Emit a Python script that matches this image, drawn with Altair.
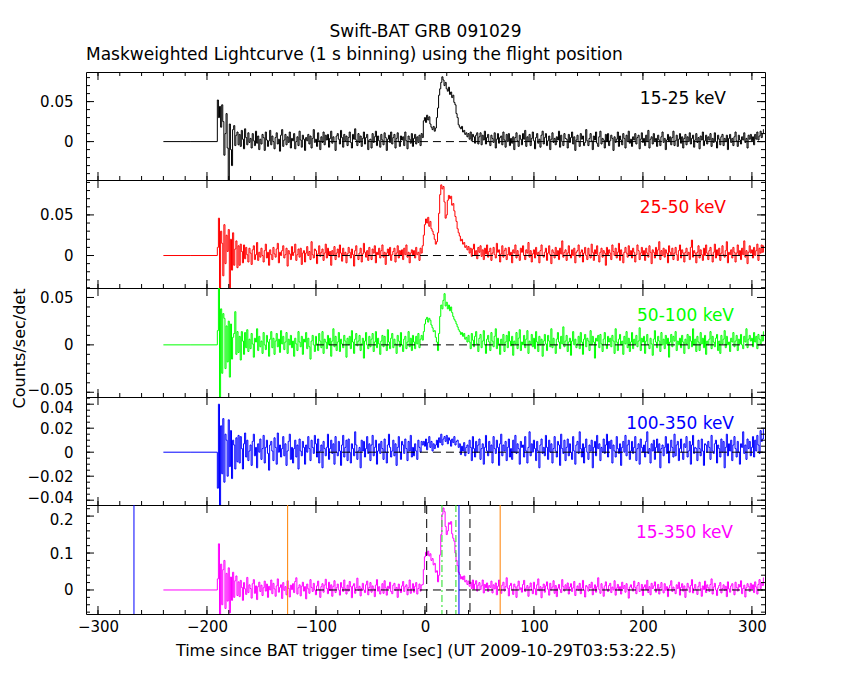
import altair as alt
import pandas as pd

# ---------------- data ----------------
X_DOMAIN = [-311, 312]
X_MAJOR = [-300, -200, -100, 0, 100, 200, 300]
X_MINOR = [-300, -280, -260, -240, -220, -200, -180, -160, -140, -120, -100,
           -80, -60, -40, -20, 0, 20, 40, 60, 80, 100, 120, 140, 160, 180,
           200, 220, 240, 260, 280, 300]

FLAT_T = [-240, -191]      # flat (zero) part before the data start
FLAT_V = [0, 0]
T0 = -190                  # first 1 s bin of the measured curve
ZERO_T = [-100, 310]       # dashed zero reference line

# rates in units of 0.001 counts/sec/det, one value per 1 s bin from T0
P1 = [
    52, 30, 44, 18, 46, 25, -17, 10, 35, -8,
    -52, 22, -10, -30, 15, 20, -5, 8, 12, -4,
    9, -6, 14, 3, -9, 16, 5, -4, 11, -1,
    4, -8, 10, 1, -5, 13, -2, 7, -10, 3,
    -3, 9, 5, -11, 12, 2, -6, 1, 14, -4,
    7, 0, -9, 5, 11, -3, 3, -12, 8, 15,
    -6, 2, 9, -4, 6, -1, 12, -8, 4, 1,
    10, -9, 0, 6, -5, 13, 2, -7, 8, 3,
    -11, 5, 1, 9, -3, 7, -8, 4, 15, -1,
    3, -6, 11, 1, -10, 6, -1, 12, -4, 8,
    2, 9, -7, 4, 13, -2, 6, 0, -11, 7,
    10, 3, -3, 14, 5, -7, 9, 1, 7, -5,
    5, 12, -1, -8, 9, 3, 16, 2, -5, 10,
    -1, 7, -6, 4, 12, -3, 5, 9, -10, 2,
    3, -8, 10, -1, 6, 13, -5, 7, 1, -7,
    9, 2, -4, 11, 5, -11, 3, 8, -1, 12,
    -3, 5, 9, -8, 4, 11, 0, -6, 7, 2,
    6, -5, 12, 1, -9, 7, 3, -2, 10, -6,
    4, 9, -3, 6, -1, 8, -5, 10, 5, 26,
    30, 24, 33, 27, 31, 22, 18, 15, 19, 13,
    17, 30, 42, 58, 66, 74, 81, 77, 70, 74,
    66, 63, 68, 59, 62, 55, 58, 49, 46, 35,
    30, 21, 18, 16, 19, 12, 14, 9, 11, 6,
    10, 3, 12, 1, 9, 6, -2, 8, 11, -3,
    6, 11, -4, 8, 2, 13, -3, 5, 9, 0,
    -5, 8, 4, -1, 11, -8, 3, 10, -2, 5,
    7, -4, 12, 2, -7, 9, 0, 10, -5, 4,
    -2, 6, -10, 5, 11, 1, -6, 8, 3, -4,
    10, 3, 14, -6, 6, 0, 9, -5, 4, 12,
    1, -9, 5, 10, -2, 3, -7, 8, 13, -3,
    5, 10, -5, 1, 7, -10, 3, 11, -1, 4,
    -4, 6, 2, 13, -7, 8, 0, -5, 10, 4,
    3, -8, 9, -1, 5, 12, -3, 6, -11, 2,
    8, 0, -6, 10, 3, 7, -5, -1, 15, 1,
    -5, 4, 10, 1, -10, 7, 2, 12, -2, -6,
    6, 13, -3, 4, 2, -8, 9, 0, 10, -5,
    1, 8, 4, -11, 6, -1, 3, 12, -6, 7,
    2, -4, 10, 4, -8, 8, 0, 13, -2, 3,
    -6, 6, 2, 10, -3, 5, 8, -9, 3, 11,
    -1, 4, -5, 8, 0, 14, -8, 3, 6, -3,
    10, 1, 4, -6, 8, 2, -5, 6, 12, -1,
    4, -10, 2, 9, 0, 6, -4, 5, 13, -5,
    1, 8, -6, 3, 10, -2, 6, -8, 4, 9,
    -4, 6, 0, 11, -3, 4, 8, -7, 2, 10,
    -1, 5, -9, 7, 2, 12, -5, 1, 8, -3,
    6, 2, 10, -6, 4, -1, 11, 0, -8, 8,
    3, -4, 6, 9, -5, 4, 0, 8, -10, 4,
    9, -1, 4, -5, 6, 12, 1, -6, 8, 2,
    -3, 6, 2, 11, -1, 4, -8, 8, 3, 9,
    1, 6, -4, 9, 3, 12, 2, 7, 13, 5,
    10, 15,
]
P2 = [
    10, 46, -42, 30, 15, -25, 38, -10, 25, 5,
    32, -45, 20, -18, 28, -12, 8, 18, -15, 12,
    -12, 14, 5, -9, 13, -4, 10, 1, -8, 9,
    3, -11, 7, 12, -5, 1, 16, -6, 4, -2,
    9, 0, -8, 6, 14, -3, 4, -12, 7, 1,
    -5, 10, 2, -2, 8, 15, -9, 4, 0, 6,
    12, -3, 1, 9, -13, 6, 2, -5, 11, 0,
    4, 14, -6, 1, 8, -2, 9, -11, 3, 6,
    -8, 3, 11, 0, 5, -5, 17, 1, -3, 8,
    6, -10, 2, 12, -1, 4, 8, -6, 3, 14,
    -3, 9, 0, 5, -12, 6, 1, 11, -5, 3,
    8, -2, 13, 3, -7, 9, 0, 4, -9, 2,
    10, 4, -3, 8, 1, -13, 6, 12, 0, -5,
    3, 9, -8, 2, 15, 4, -2, 6, -6, 10,
    0, -5, 8, 3, 12, -9, 4, 1, 9, -3,
    6, 13, -2, 4, -11, 3, 8, 0, 10, -6,
    1, 5, 9, -8, 3, 12, -3, 6, 0, 7,
    -5, 9, 1, 13, -2, 4, -9, 3, 7, 0,
    6, -3, 10, 1, 4, -6, 9, 3, 12, 25,
    38, 45, 40, 47, 36, 42, 33, 30, 26, 20,
    14, 17, 28, 52, 75, 87, 82, 85, 66, 46,
    50, 68, 74, 70, 73, 62, 64, 55, 48, 42,
    33, 28, 24, 18, 20, 14, 16, 10, 12, 7,
    11, 3, 9, -1, 8, 14, 0, 6, -4, 10,
    4, 12, -1, 7, -5, 9, 2, 13, -2, 5,
    9, -6, 3, 10, 1, -3, 15, 4, 7, -8,
    2, 12, -2, 6, 9, -5, 1, 10, 0, 4,
    -9, 7, 3, 13, -3, 6, 1, -6, 9, 4,
    12, 0, -5, 7, 3, 16, -2, 6, -8, 2,
    7, -3, 10, 1, 4, -9, 6, 13, 0, -2,
    4, 9, -6, 3, 12, 1, -10, 7, 4, -3,
    10, 0, 6, -5, 9, 2, 18, -2, 4, 7,
    -6, 3, 12, 1, -3, 7, 0, 9, -9, 4,
    6, 13, -2, 4, 7, -8, 3, 10, 0, -5,
    9, 1, -3, 14, 4, -6, 7, 2, 12, 0,
    -8, 4, 9, -2, 6, 3, -12, 10, 1, 7,
    3, -5, 13, 5, 0, 9, -3, 4, 15, -6,
    7, 1, -9, 4, 10, 3, -2, 12, 0, 6,
    -3, 9, 4, -8, 1, 13, 6, -5, 3, 10,
    0, 6, -6, 9, 3, -2, 12, 4, -10, 7,
    4, -3, 10, 1, 7, 17, -5, 6, 0, 9,
    -2, 7, 3, -9, 12, 4, 0, 9, -5, 3,
    10, 1, -6, 6, 13, -3, 7, 3, -8, 4,
    9, 0, 4, -5, 10, 19, -2, 6, 3, -9,
    4, 12, -3, 7, 1, -6, 9, 0, 13, 3,
    -5, 6, 10, 1, -8, 4, 14, -3, 7, 0,
    9, -6, 3, 12, 1, -2, 6, 17, -9, 4,
    1, 7, -3, 10, 4, -8, 3, 13, 0, 6,
    -5, 9, 1, 18, -2, 6, -10, 4, 12, 3,
    7, -3, 10, 0, 6, 14, -6, 9, 3, 13,
    4, 12,
]
P3 = [
    15, 62, -58, 38, -30, 33, 28, -25, 20, -18,
    25, -34, 22, -15, 8, 12, 35, -10, 14, -8,
    9, -16, 14, 4, -10, 13, -3, 16, -7, 6,
    -4, 12, 1, -13, 7, 3, 17, -6, 9, -2,
    4, -9, 13, 0, -5, 10, 3, -12, 6, 14,
    -3, 7, -10, 4, 12, -2, 6, -8, 15, 1,
    9, -5, 3, 13, -9, 6, 0, 10, -3, 4,
    -12, 7, 1, -6, 14, 3, -2, 9, -10, 6,
    3, 13, -4, 7, -2, -15, 4, 10, 0, -7,
    9, 1, -6, 12, 4, -3, 14, -9, 6, 3,
    -4, 10, 0, 7, -12, 4, 17, -2, 9, -6,
    3, 13, -7, 6, 1, -3, 10, 4, -13, 7,
    0, 9, -4, 15, 3, -9, 6, 12, -1, 4,
    10, -6, 1, 7, -14, 4, 13, 0, -4, 9,
    -2, 6, 12, -7, 3, 14, -3, 7, 1, -10,
    4, 10, -2, 9, 0, -6, 16, 3, -4, 7,
    12, -3, 6, 1, -9, 10, 4, -2, 13, 0,
    -7, 6, 9, -4, 3, 14, -2, 7, -6, 10,
    3, -4, 9, 1, 12, -3, 6, 10, 5, 14,
    22, 27, 29, 24, 28, 26, 21, 18, 14, 15,
    8, 3, -6, 12, 30, 42, 38, 47, 54, 41,
    45, 38, 42, 36, 40, 34, 30, 27, 25, 22,
    19, 16, 14, 11, 13, 9, 12, 6, 8, 3,
    10, 3, -4, 12, 5, -2, 9, 14, 1, -7,
    7, 11, -3, 4, 15, 0, -9, 6, 10, 3,
    -6, 13, 4, -2, 9, 17, -4, 7, 1, -10,
    6, 0, 11, -7, 3, 10, -3, 14, 4, -1,
    9, -11, 4, 1, 13, -4, 7, 16, -6, 3,
    0, 10, -3, 6, 15, -9, 4, 1, 11, -2,
    7, -4, 14, 3, -7, 9, 0, 6, -12, 4,
    11, 1, -6, 10, 4, -2, 17, -3, 7, 0,
    -9, 6, 13, 3, -4, 9, 1, 19, -2, 4,
    10, -7, 3, 7, -11, 4, 14, 0, 6, -3,
    1, 9, -4, 13, 3, -10, 6, 11, -2, 7,
    4, -6, 15, 0, 9, 3, -14, 7, 4, 10,
    -3, 11, 1, -7, 6, 13, 0, -4, 9, 3,
    7, -2, 10, 4, -9, 17, 3, -6, 6, 11,
    0, 4, -10, 9, 1, 14, -3, 7, -7, 3,
    13, -4, 6, 1, 10, -2, 4, 18, -6, 7,
    3, 9, -9, 4, 11, 0, -4, 7, 1, -11,
    6, 15, 3, -3, 9, 4, -7, 13, 0, 6,
    -4, 10, 1, 7, -13, 3, 11, -2, 9, 4,
    14, -6, 4, 0, 7, -3, 10, 3, -9, 6,
    1, 11, -4, 9, 4, -2, 17, 0, 6, -7,
    9, 3, -6, 13, 1, 7, -3, 10, -10, 4,
    0, 6, 14, -4, 9, 3, -2, 7, 11, -6,
    4, -9, 10, 1, 6, 15, -3, 9, 0, 3,
    -7, 7, 3, 13, -2, 4, 10, -6, 6, 1,
    11, 0, -4, 9, 3, 17, -3, 6, 10, 4,
    7, -2, 13, 3, 9, -4, 11, 6, 1, 10,
    4, 14,
]
P4 = [
    -30, 40, -44, 22, -18, 28, -25, 15, 10, -20,
    27, -12, 18, -22, 10, 6, -14, 12, -8, 14,
    -9, 13, 3, -14, 7, 16, -4, 10, -7, 1,
    6, -11, 9, 15, -3, 4, -13, 7, 0, 11,
    -6, 3, 14, -9, 4, 10, -1, -15, 6, 9,
    1, -7, 12, 4, -10, 16, 0, 6, -4, 3,
    13, -3, 7, -11, 1, 9, 15, -6, 4, -9,
    3, 10, -4, 6, -14, 11, 1, -3, 9, 4,
    -10, 6, 0, 13, 3, -7, 10, 4, -1, 14,
    7, -4, 11, -9, 1, 6, -13, 9, 3, -3,
    4, 15, -6, 3, 10, -1, 7, -10, 13, 0,
    -3, 9, 1, -11, 6, 14, -4, 4, 10, -7,
    11, 0, -9, 7, 3, -3, 17, 6, -6, 1,
    4, -13, 10, 1, 9, -4, 3, 13, -1, 7,
    -7, 6, 14, -3, 4, 10, -10, 1, 7, -1,
    9, 3, -6, 11, 0, -9, 6, 15, 4, -4,
    1, 10, -3, 7, -11, 4, 13, 0, -6, 9,
    6, -1, 11, 3, -7, 9, 1, 14, -4, 4,
    -3, 7, 1, -6, 10, 4, 0, 9, 6, 9,
    5, 11, 2, 8, 13, 4, 9, 1, 7, 3,
    6, 10, 4, 12, 8, 15, 6, 11, 13, 9,
    14, 7, 12, 10, 5, 11, 8, 13, 6, 9,
    10, 4, 7, -2, 5, 1, 8, -3, 4, 6,
    -1, 10, 4, -7, 13, 3, -4, 9, 0, 6,
    11, -6, 3, 7, -10, 4, 14, 1, -3, 9,
    0, 6, -9, 13, 3, -1, 10, 4, -11, 7,
    15, -3, 6, 1, 9, -7, 4, 11, -4, 3,
    -6, 10, 0, 14, -1, 7, 3, -10, 9, 4,
    6, -4, 13, 1, -9, 4, 17, -3, 7, 0,
    10, 3, -7, 9, 1, -13, 6, 11, -1, 4,
    -3, 14, 4, -6, 10, 0, 7, -9, 3, 13,
    1, -4, 9, 6, -11, 15, 3, -1, 10, -7,
    4, 11, -3, 7, 0, -6, 13, 1, -10, 6,
    9, -1, 17, 3, -4, 7, -9, 4, 11, 0,
    -6, 6, 1, 10, -13, 4, 9, -3, 14, 3,
    7, -7, 4, 0, 11, -1, 6, 15, -4, 9,
    3, 10, -9, 6, 1, -4, 13, 3, -1, 7,
    -11, 4, 9, 0, 14, -3, 6, 10, -6, 1,
    9, -1, 4, 13, -7, 3, 7, -10, 11, 4,
    0, 6, -4, 9, 17, -1, 3, -9, 7, 1,
    10, -6, 4, 11, 0, 7, -13, 3, 6, -3,
    4, 13, -1, 7, -9, 1, 10, 4, -4, 15,
    -3, 6, 9, -7, 3, 11, 0, -6, 7, 4,
    13, -4, 1, 9, -10, 6, 14, -1, 4, 3,
    -7, 10, 3, -3, 11, 1, -11, 7, 6, 0,
    9, 4, -6, 14, 1, -1, 7, 10, -9, 6,
    3, -4, 11, 0, 9, -13, 4, 15, -3, 7,
    1, 10, -7, 6, 13, 3, -4, 9, 0, -10,
    7, 4, 17, -1, 6, -6, 11, 3, 9, -3,
    4, 13, -4, 10, 1, 14, 6, -1, 18, 9,
    11, 19,
]
P5 = [
    30, 125, -65, 70, -40, 55, 80, -50, 45, -30,
    60, -62, 35, -28, 48, -20, 25, 38, -15, 22,
    -18, 26, 7, -28, 20, 3, -12, 34, -7, 14,
    4, -22, 17, 28, -9, 11, -26, 9, 21, -4,
    13, -15, 6, 24, -3, 16, -20, 10, 0, 27,
    -10, 18, 3, -17, 11, 30, -6, 7, 14, -23,
    20, -1, 9, -13, 25, 4, -19, 13, 1, 17,
    -7, 23, 33, -11, 6, 14, -16, 10, 21, -3,
    9, -24, 16, 3, -9, 28, 7, -4, 18, 0,
    -13, 11, 24, 1, -20, 9, 17, -6, 13, 29,
    4, -10, 21, -1, 14, -17, 10, 25, -7, 6,
    16, 0, -14, 20, 7, -4, 27, 3, -11, 13,
    -3, 23, 9, -21, 11, 17, -9, 6, 32, -1,
    10, -16, 4, 18, 0, -7, 14, 24, -13, 7,
    20, -6, 11, 3, -18, 13, 28, -3, 9, -11,
    1, 17, -9, 25, 6, -14, 10, 4, 21, -4,
    -10, 13, 18, -1, 7, -20, 16, 3, -7, 11,
    23, -4, 9, 14, -13, 6, 27, -9, 3, 17,
    -6, 10, 20, -11, 4, 16, -3, 13, 15, 55,
    90, 102, 95, 105, 92, 98, 80, 85, 68, 72,
    48, 52, 22, 40, 95, 150, 205, 222, 212, 172,
    150, 160, 182, 178, 185, 152, 140, 132, 100, 80,
    66, 48, 42, 30, 36, 28, 38, 22, 26, 15,
    24, 10, 21, 4, 27, 2, 16, 25, -3, 13,
    20, 1, 11, 27, -8, 15, 6, 19, -4, 12,
    7, 24, -8, 14, 3, 19, -13, 10, 27, 0,
    -9, 13, 21, -3, 9, 33, 5, -16, 12, 18,
    2, -12, 16, 8, -20, 11, 24, 0, 6, -6,
    15, 26, -4, 5, 12, -17, 8, 19, 1, -10,
    21, 3, -13, 14, 30, -2, 9, -21, 6, 16,
    -6, 11, 22, 2, -14, 18, 0, 8, 25, -9,
    12, -18, 5, 15, 1, -7, 28, 9, -3, 14,
    3, 19, -11, 8, 17, -4, 6, 23, -15, 2,
    11, -1, 18, -10, 5, 26, 0, -19, 12, 8,
    -3, 15, 6, 21, -13, 4, 14, -6, 9, 33,
    1, -9, 17, 5, -17, 11, 22, 2, -4, 12,
    18, -7, 8, 0, 25, -14, 5, 15, -1, 9,
    -11, 21, 4, 12, -6, 17, 1, -22, 8, 14,
    5, -3, 24, 7, -10, 12, 20, -4, 2, 15,
    -15, 8, 14, 1, 26, -7, 9, -13, 18, 4,
    11, 22, -6, 3, 15, -11, 7, 20, 0, -8,
    17, -1, 9, -18, 5, 13, 25, -4, 8, 1,
    -10, 14, 4, 21, -14, 7, 17, -3, 11, -20,
    3, 18, 8, -6, 12, 28, -8, 5, 15, 0,
    -12, 10, 21, 4, -17, 11, 1, 24, -7, 14,
    6, -4, 15, 30, -11, 8, 18, 0, -15, 5,
    12, 20, -8, 4, 14, -1, 10, -18, 22, 3,
    -6, 11, 17, 1, -13, 21, 7, -3, 15, 8,
    25, -10, 4, 13, -19, 6, 17, 10, -4, 18,
    3, 14, -7, 22, 8, -11, 15, 28, 4, 20,
    12, 33,
]

# y ranges and ticks of the five panels
P1_DOMAIN = [-0.048, 0.087]
P2_DOMAIN = [-0.040, 0.093]
P3_DOMAIN = [-0.055, 0.060]
P4_DOMAIN = [-0.044, 0.046]
P5_DOMAIN = [-0.065, 0.230]
P1_MAJOR = [0, 0.05]
P2_MAJOR = [0, 0.05]
P3_MAJOR = [-0.05, 0, 0.05]
P4_MAJOR = [-0.04, -0.02, 0, 0.02, 0.04]
P5_MAJOR = [0, 0.1, 0.2]
P1_MINOR = [-0.04, -0.03, -0.02, -0.01, 0, 0.01, 0.02, 0.03, 0.04, 0.05, 0.06, 0.07, 0.08]
P2_MINOR = [-0.04, -0.03, -0.02, -0.01, 0, 0.01, 0.02, 0.03, 0.04, 0.05, 0.06, 0.07, 0.08, 0.09]
P3_MINOR = [-0.05, -0.04, -0.03, -0.02, -0.01, 0, 0.01, 0.02, 0.03, 0.04, 0.05, 0.06]
P4_MINOR = [-0.04, -0.035, -0.03, -0.025, -0.02, -0.015, -0.01, -0.005, 0, 0.005,
            0.01, 0.015, 0.02, 0.025, 0.03, 0.035, 0.04, 0.045]
P5_MINOR = [-0.06, -0.04, -0.02, 0, 0.02, 0.04, 0.06, 0.08, 0.1, 0.12, 0.14,
            0.16, 0.18, 0.2, 0.22]

BANDS = ["15-25 keV", "25-50 keV", "50-100 keV", "100-350 keV", "15-350 keV"]
COLORS = ["#000000", "#ff0000", "#00ff00", "#0000ff", "#ff00ff"]

# marker lines of the bottom panel
BLUE_LINES = [-267, 31.2]
ORANGE_LINES = [-126, 69]
BLACK_DASHED_LINES = [1.6, 41.3]
GREEN_DASHDOT_LINES = [15.6, 28.4]

# ---------------- layout ----------------
FONT = "DejaVu Sans"
W = 679
HEIGHTS = [108, 108, 109, 108, 109]
LABEL_POS = [(640, 27), (640, 28), (648, 28), (648, 27), (647, 28)]
MAJ, MIN = 8, 4
# small nudges of the y labels that sit on a panel edge (keeps them apart)
LABEL_NUDGE = [
    None,
    None,
    {"condition": {"test": "datum.value < -0.045", "value": -3}, "value": 0},
    {"condition": [{"test": "datum.value > 0.035", "value": 3},
                   {"test": "datum.value < -0.035", "value": -3}], "value": 0},
    {"condition": {"test": "datum.value > 0.15", "value": 3}, "value": 0},
]

cfgs = [
    (P1, P1_DOMAIN, P1_MAJOR, P1_MINOR),
    (P2, P2_DOMAIN, P2_MAJOR, P2_MINOR),
    (P3, P3_DOMAIN, P3_MAJOR, P3_MINOR),
    (P4, P4_DOMAIN, P4_MAJOR, P4_MINOR),
    (P5, P5_DOMAIN, P5_MAJOR, P5_MINOR),
]

xs = alt.Scale(domain=X_DOMAIN, nice=False, zero=False)


def make_panel(i):
    vals, dom, major, minor = cfgs[i]
    H = HEIGHTS[i]
    color = COLORS[i]
    last = i == 4
    ys = alt.Scale(domain=dom, nice=False, zero=False)

    if last:
        xaxis = alt.Axis(values=X_MAJOR, format="d", ticks=False, domain=False,
                         grid=False, labelPadding=5, labelFlush=False,
                         labelOverlap=False, titlePadding=8,
                         title="Time since BAT trigger time [sec] (UT 2009-10-29T03:53:22.5)")
        X = alt.X("t:Q", scale=xs, axis=xaxis)
    else:
        X = alt.X("t:Q", scale=xs, axis=None)

    ykw = dict(values=major, format="~g", ticks=False, domain=False, grid=False,
               labelPadding=13, labelOverlap=False)
    if LABEL_NUDGE[i] is not None:
        ykw["labelOffset"] = LABEL_NUDGE[i]
    if i == 2:
        yaxis = alt.Axis(title="Counts/sec/det", titleX=-67, titleY=60,
                         titleAngle=270, titleAlign="center", titleBaseline="middle",
                         **ykw)
    else:
        yaxis = alt.Axis(title=None, **ykw)
    Y = alt.Y("v:Q", scale=ys, axis=yaxis)

    df = pd.DataFrame({
        "t": FLAT_T + list(range(T0, T0 + len(vals))),
        "v": FLAT_V + [v / 1000 for v in vals],
    })
    layers = []
    layers.append(alt.Chart(df).mark_line(interpolate="step", color=color,
                                          strokeWidth=1, clip=True).encode(x=X, y=Y))
    zdf = pd.DataFrame({"t": ZERO_T, "v": [0, 0]})
    layers.append(alt.Chart(zdf).mark_line(color="black", strokeWidth=1,
                                           strokeDash=[8, 5], clip=True).encode(x=X, y=Y))

    if last:
        for tl, col, dash in [(BLUE_LINES, "#0000ff", None),
                              (ORANGE_LINES, "#ff8000", None),
                              (BLACK_DASHED_LINES, "#000000", [9, 5]),
                              (GREEN_DASHDOT_LINES, "#22dd22", [7, 3, 2, 3])]:
            vdf = pd.DataFrame({"t": tl})
            kw = dict(color=col, strokeWidth=1, clip=True)
            if dash:
                kw["strokeDash"] = dash
            layers.append(alt.Chart(vdf).mark_rule(**kw).encode(
                x=X, y=alt.value(0), y2=alt.value(H)))

    # tick marks drawn inwards on all four sides
    ymaj = pd.DataFrame({"v": major})
    ymin = pd.DataFrame({"v": minor})
    for d, L in [(ymaj, MAJ), (ymin, MIN)]:
        layers.append(alt.Chart(d).mark_rule(color="black", strokeWidth=1).encode(
            x=alt.value(0), x2=alt.value(L), y=Y))
        layers.append(alt.Chart(d).mark_rule(color="black", strokeWidth=1).encode(
            x=alt.value(W), x2=alt.value(W - L), y=Y))
    xmaj = pd.DataFrame({"t": X_MAJOR})
    xmin = pd.DataFrame({"t": X_MINOR})
    layers.append(alt.Chart(xmaj).mark_rule(color="black", strokeWidth=1).encode(
        x=X, y=alt.value(H), y2=alt.value(H - MAJ)))
    layers.append(alt.Chart(xmin).mark_rule(color="black", strokeWidth=1).encode(
        x=X, y=alt.value(H), y2=alt.value(H - MIN)))
    layers.append(alt.Chart(xmaj).mark_rule(color="black", strokeWidth=1).encode(
        x=X, y=alt.value(0), y2=alt.value(MAJ)))
    if i == 0:
        layers.append(alt.Chart(xmin).mark_rule(color="black", strokeWidth=1).encode(
            x=X, y=alt.value(0), y2=alt.value(MIN)))

    lx, ly = LABEL_POS[i]
    ldf = pd.DataFrame({"label": [BANDS[i]]})
    layers.append(alt.Chart(ldf).mark_text(align="right", baseline="middle",
                                           font=FONT, fontSize=17, color=color).encode(
        x=alt.value(lx), y=alt.value(ly), text="label:N"))

    ch = alt.layer(*layers).properties(width=W, height=H)
    if i == 0:
        ch = ch.properties(title=alt.TitleParams(
            text="Maskweighted Lightcurve (1 s binning) using the flight position",
            anchor="start", frame="group", offset=8, fontSize=17, font=FONT,
            fontWeight="normal", color="black"))
    return ch


chart = alt.vconcat(
    *[make_panel(i) for i in range(5)],
    spacing=0,
    bounds="flush",
    padding={"left": 2, "top": 15, "right": 5, "bottom": 5},
    background="white",
    title=alt.TitleParams(text="Swift-BAT GRB 091029", anchor="middle", frame="group",
                          fontSize=17, font=FONT, fontWeight="normal", color="black",
                          offset=4),
).configure_view(
    stroke="black", strokeWidth=1
).configure_axis(
    labelFont=FONT, labelFontSize=15, labelColor="black",
    titleFont=FONT, titleFontSize=16, titleFontWeight="normal", titleColor="black"
)

chart.save("out.html", embed_options={"renderer": "svg", "actions": False})
